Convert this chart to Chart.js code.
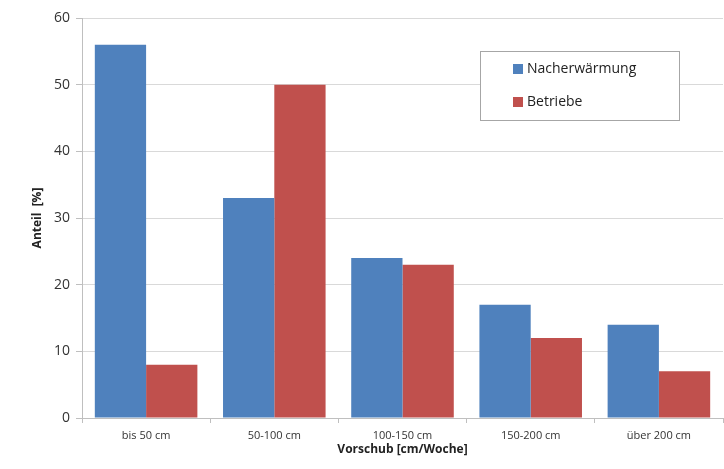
<!DOCTYPE html>
<html>
<head>
<meta charset="utf-8">
<script src="https://cdn.jsdelivr.net/npm/chart.js@4/dist/chart.umd.min.js"></script>
<style>
  html, body { margin: 0; padding: 0; background: #fff; }
  #wrap { width: 724px; height: 469px; position: relative; }
</style>
</head>
<body>
<div id="wrap"><canvas id="chart"></canvas></div>
<script>
/* ===== DATA ===== */
const categories = ["bis 50 cm", "50-100 cm", "100-150 cm", "150-200 cm", "über 200 cm"];
const nacherwaermung = [56, 33, 24, 17, 14];
const betriebe = [8, 50, 23, 12, 7];
const seriesNames = ["Nacherwärmung", "Betriebe"];
const yTicks = [0, 10, 20, 30, 40, 50, 60];

const FONT = "'Open Sans', 'Liberation Sans', sans-serif";

/* legend box drawn inside the plot, like the office chart */
const boxLegend = {
    id: "boxLegend",
    afterDraw(chart) {
        const ctx = chart.ctx;
        const x = 480, y = 51, w = 199, h = 69;
        ctx.save();
        ctx.fillStyle = "#fff";
        ctx.fillRect(x, y, w, h);
        ctx.strokeStyle = "#a6a6a6";
        ctx.lineWidth = 1;
        ctx.strokeRect(x + 0.5, y + 0.5, w, h);
        ctx.font = "14px " + FONT;
        ctx.textBaseline = "middle";
        chart.data.datasets.forEach((ds, i) => {
            const cy = y + 18 + i * 33;
            ctx.fillStyle = ds.backgroundColor;
            ctx.fillRect(x + 33, cy - 5, 10, 10);
            ctx.fillStyle = "#222";
            ctx.fillText(ds.label, x + 47, cy);
        });
        ctx.restore();
    }
};

const ctx = document.getElementById("chart").getContext("2d");

new Chart(ctx, {
    type: "bar",
    data: {
        labels: categories,
        datasets: [
            {
                label: seriesNames[0],
                data: nacherwaermung,
                backgroundColor: "#4f81bd",
                barPercentage: 1,
                categoryPercentage: 0.8
            },
            {
                label: seriesNames[1],
                data: betriebe,
                backgroundColor: "#c0504d",
                barPercentage: 1,
                categoryPercentage: 0.8
            }
        ]
    },
    options: {
        responsive: true,
        maintainAspectRatio: false,
        animation: false,
        layout: { padding: { top: 18, right: 1, left: 0, bottom: 12 } },
        plugins: {
            legend: { display: false },
            tooltip: { enabled: false }
        },
        scales: {
            x: {
                grid: {
                    display: true,
                    offset: true,
                    drawOnChartArea: false,
                    tickLength: 5,
                    color: "#bfbfbf"
                },
                border: { color: "#bfbfbf" },
                ticks: {
                    font: { family: FONT, size: 11 },
                    color: "#333",
                    padding: 6,
                    maxRotation: 0
                },
                title: {
                    display: true,
                    text: "Vorschub [cm/Woche]",
                    font: { family: FONT, size: 12, weight: "bold" },
                    color: "#222",
                    padding: { top: 4, bottom: 0 }
                },
                afterFit(scale) { scale.height = 39; }
            },
            y: {
                min: 0,
                max: 60,
                afterBuildTicks(scale) {
                    scale.ticks = yTicks.map(v => ({ value: v }));
                },
                grid: {
                    color: "#d9d9d9",
                    tickLength: 6,
                    tickColor: "#bfbfbf"
                },
                border: { color: "#bfbfbf" },
                ticks: {
                    font: { family: FONT, size: 14 },
                    color: "#333",
                    padding: 6
                },
                title: {
                    display: true,
                    text: "Anteil  [%]",
                    font: { family: FONT, size: 12, weight: "bold" },
                    color: "#222",
                    padding: { top: 30, bottom: 8 }
                },
                afterFit(scale) { scale.width = 82; }
            }
        }
    },
    plugins: [boxLegend]
});
</script>
</body>
</html>
